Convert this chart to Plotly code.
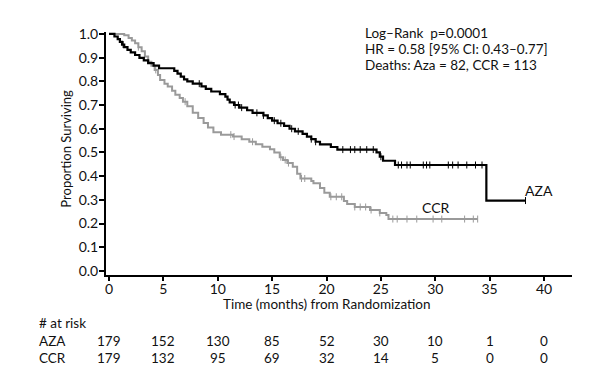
import numpy as np
import plotly.graph_objects as go

# ---------------- data ----------------
aza_t = [0, 0.5, 0.8, 1.0, 1.2, 1.4, 1.7, 2.0, 2.4, 2.8, 3.2, 3.6, 4.1, 4.6,
         6.0, 6.3, 6.6, 6.9, 7.2, 7.7, 8.5, 8.9, 9.4, 10.2, 10.7, 10.9, 11.1,
         11.5, 12.0, 12.7, 13.2, 14.2, 14.6, 15.0, 15.5, 16.1, 16.6, 17.1,
         17.8, 18.2, 18.6, 19.0, 19.4, 20.4, 21.0, 24.6, 24.9, 25.2, 26.3,
         34.7, 38.3]
aza_s = [1.0, 0.989, 0.978, 0.966, 0.955, 0.944, 0.933, 0.922, 0.911, 0.899,
         0.888, 0.877, 0.866, 0.855, 0.844, 0.832, 0.820, 0.808, 0.800, 0.790,
         0.779, 0.768, 0.757, 0.746, 0.735, 0.723, 0.711, 0.700, 0.689, 0.678,
         0.667, 0.656, 0.645, 0.634, 0.623, 0.612, 0.600, 0.589, 0.578, 0.567,
         0.556, 0.545, 0.534, 0.523, 0.512, 0.500, 0.482, 0.465, 0.447, 0.297,
         0.297]
aza_cens = [1.3, 8.3, 11.6, 11.9, 12.2, 13.6, 14.2, 15.2, 15.8, 16.8, 17.4,
            18.6, 19.0, 21.5, 22.2, 22.6, 23.1, 23.7, 24.3, 25.0, 26.6, 26.9,
            27.4, 27.7, 28.9, 29.2, 29.5, 31.2, 31.6, 32.1, 32.9, 33.7, 34.3,
            38.3]

ccr_t = [0, 1.4, 1.8, 2.1, 2.4, 2.7, 3.0, 3.3, 3.6, 3.9, 4.2, 4.5, 4.7, 5.1,
         5.4, 5.8, 6.1, 6.5, 6.8, 7.2, 7.7, 8.2, 8.7, 9.1, 9.6, 10.3, 11.4,
         12.2, 12.9, 13.5, 14.1, 14.8, 15.2, 15.7, 16.0, 16.4, 16.9, 17.3,
         17.6, 18.6, 18.8, 19.4, 19.8, 20.3, 21.6, 21.9, 22.6, 24.0, 24.9,
         25.5, 25.7, 33.9]
ccr_s = [1.0, 0.994, 0.983, 0.972, 0.961, 0.944, 0.927, 0.905, 0.883, 0.866,
         0.848, 0.827, 0.806, 0.790, 0.778, 0.760, 0.743, 0.730, 0.714, 0.695,
         0.667, 0.645, 0.624, 0.605, 0.585, 0.575, 0.567, 0.556, 0.545, 0.535,
         0.524, 0.513, 0.500, 0.480, 0.468, 0.455, 0.440, 0.410, 0.390, 0.380,
         0.370, 0.350, 0.330, 0.313, 0.295, 0.283, 0.270, 0.257, 0.245, 0.236,
         0.219, 0.219]
ccr_cens = [2.7, 4.3, 7.0, 11.2, 11.5, 13.2, 15.8, 16.2, 16.5, 17.7, 18.0,
            20.4, 20.9, 21.4, 22.6, 23.1, 23.6, 24.1, 24.9, 26.1, 26.5, 27.4,
            28.3, 29.8, 30.6, 32.7, 33.5, 33.9]

risk_times = [0, 5, 10, 15, 20, 25, 30, 35, 40]
risk_aza = [179, 152, 130, 85, 52, 30, 10, 1, 0]
risk_ccr = [179, 132, 95, 69, 32, 14, 5, 0, 0]

stats_lines = ["Log\u2013Rank  p=0.0001",
               "HR = 0.58 [95% CI: 0.43\u20130.77]",
               "Deaths: Aza = 82, CCR = 113"]

# ---------------- layout helpers ----------------
O = 8                      # browser body margin
W, H = 614 - O, 384 - O
L, R, T, B = 106, 572, 32, 275   # plot area in window pixels
FONT = "Lato"
TXT = "#111"


def px(x):
    return (x - L) / (R - L)


def py(y):
    return (B - y) / (B - T)


def step_val(times, surv, t):
    i = np.searchsorted(np.array(times), t, side="right") - 1
    return np.array(surv)[i]


fig = go.Figure()

for t, s, c, col, w in [(ccr_t, ccr_s, ccr_cens, "#9a9a9a", 2),
                        (aza_t, aza_s, aza_cens, "#000000", 2.2)]:
    fig.add_trace(go.Scatter(x=t, y=s, mode="lines",
                             line=dict(color=col, width=w, shape="hv"),
                             showlegend=False, hoverinfo="skip"))
    fig.add_trace(go.Scatter(x=c, y=step_val(t, s, c), mode="markers",
                             marker=dict(symbol="line-ns", size=5,
                                         line=dict(color=col, width=1)),
                             showlegend=False, hoverinfo="skip"))

ann = []
for i, line in enumerate(stats_lines):
    ann.append(dict(x=px(363), y=py(33 + 16 * i), xref="paper", yref="paper",
                    text=line, showarrow=False, xanchor="left",
                    yanchor="middle", font=dict(size=13.5, color=TXT)))

ann.append(dict(x=30.1, y=0.266, xref="x", yref="y", text="CCR",
                showarrow=False, font=dict(size=14, color=TXT)))
ann.append(dict(x=39.5, y=0.338, xref="x", yref="y", text="AZA",
                showarrow=False, font=dict(size=14, color=TXT)))

ann.append(dict(x=px(66), y=0.52, xref="paper", yref="paper",
                text="Proportion Surviving", textangle=-90, showarrow=False,
                xanchor="center", yanchor="middle",
                font=dict(size=13, color=TXT)))
ann.append(dict(x=20, y=py(304), xref="x", yref="paper",
                text="Time (months) from Randomization", showarrow=False,
                xanchor="center", yanchor="middle",
                font=dict(size=13.5, color=TXT)))

ann.append(dict(x=px(37), y=py(323), xref="paper", yref="paper",
                text="# at risk", showarrow=False, xanchor="left",
                yanchor="middle", font=dict(size=13.5, color=TXT)))
for label, vals, yy in [("AZA", risk_aza, 341), ("CCR", risk_ccr, 358)]:
    ann.append(dict(x=px(37), y=py(yy), xref="paper", yref="paper",
                    text=label, showarrow=False, xanchor="left",
                    yanchor="middle", font=dict(size=13.5, color=TXT)))
    for tt, v in zip(risk_times, vals):
        ann.append(dict(x=tt, y=py(yy), xref="x", yref="paper", text=str(v),
                        showarrow=False, xanchor="center", yanchor="middle",
                        font=dict(size=13.5, color=TXT)))

fig.update_layout(
    width=W, height=H,
    margin=dict(l=L - O, r=614 - R, t=T - O, b=384 - B, pad=0),
    paper_bgcolor="white", plot_bgcolor="white",
    font=dict(family=FONT, size=13, color=TXT),
    annotations=ann,
    xaxis=dict(range=[-3 / 10.875, (R - 109) / 10.875],
               tickvals=risk_times, ticks="outside", ticklen=4, tickwidth=1.5,
               tickcolor="#000", showline=True, linecolor="#000", linewidth=2,
               showgrid=False, zeroline=False, tickfont=dict(size=14),
               ticklabelstandoff=-4),
    yaxis=dict(range=[-0.017, 1.008], dtick=0.1, tick0=0, tickformat=".1f",
               ticks="outside", ticklen=5, tickwidth=1.5, tickcolor="#000",
               showline=True, linecolor="#000", linewidth=2, showgrid=False,
               zeroline=False, tickfont=dict(size=14), ticklabelstandoff=-2),
)

fig.write_html("out.html")
